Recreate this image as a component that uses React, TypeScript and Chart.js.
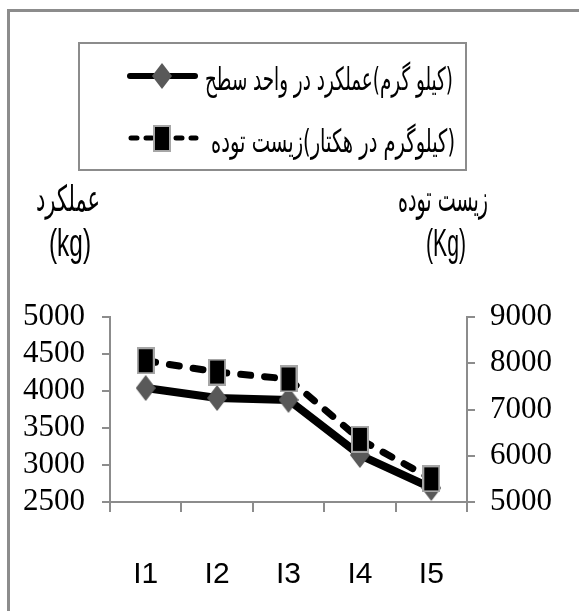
import { useEffect, useRef } from 'react';
import { Chart, registerables } from 'chart.js';

Chart.register(...registerables);

const categories = ['I1', 'I2', 'I3', 'I4', 'I5'];
const yieldValues = [4040, 3905, 3880, 3135, 2690];
const biomassValues = [8055, 7810, 7660, 6355, 5500];
const yieldLabel = '(کیلو گرم)عملکرد در واحد سطح';
const biomassLabel = '(کیلوگرم در هکتار)زیست توده';
const leftTitle = ['عملکرد', '(kg)'];
const rightTitle = ['زیست توده', '(Kg)'];
const leftAxisRange = [2500, 5000, 500];
const rightAxisRange = [5000, 9000, 1000];

const GRAY = '#8c8c8c';
const W = 579;
const H = 611;

function makeDiamond(): HTMLCanvasElement {
  const c = document.createElement('canvas');
  c.width = 20;
  c.height = 26;
  const g = c.getContext('2d')!;
  g.fillStyle = '#595959';
  g.beginPath();
  g.moveTo(10, 0);
  g.lineTo(20, 13);
  g.lineTo(10, 26);
  g.lineTo(0, 13);
  g.closePath();
  g.fill();
  return c;
}

function makeRect(): HTMLCanvasElement {
  const c = document.createElement('canvas');
  c.width = 18;
  c.height = 27;
  const g = c.getContext('2d')!;
  g.fillStyle = '#a6a6a6';
  g.fillRect(0, 0, 18, 27);
  g.fillStyle = '#000';
  g.fillRect(2, 2, 14, 23);
  return c;
}

function drawFitted(
  ctx: CanvasRenderingContext2D,
  text: string,
  font: string,
  x: number,
  y: number,
  width: number,
  align: 'center' | 'left' | 'right',
  rtl: boolean
) {
  ctx.save();
  ctx.font = font;
  (ctx as any).direction = rtl ? 'rtl' : 'ltr';
  ctx.textBaseline = 'middle';
  ctx.textAlign = 'left';
  ctx.fillStyle = '#000';
  const w = ctx.measureText(text).width;
  const sx = width / w;
  const left = align === 'center' ? x - width / 2 : align === 'right' ? x - width : x;
  ctx.translate(left, y);
  ctx.scale(sx, 1);
  ctx.fillText(text, 0, 0);
  ctx.restore();
}

export default function App() {
  const ref = useRef<HTMLCanvasElement>(null);

  useEffect(() => {
    const canvas = ref.current;
    if (!canvas) return;
    const diamond = makeDiamond();
    const rect = makeRect();
    const arabicFont = (px: number) => `${px}px "DejaVu Sans"`;
    const latinNarrow = (px: number) => `${px}px "Liberation Sans Narrow", "Liberation Sans"`;

    const decor = {
      id: 'decor',
      beforeDraw(chart: any) {
        const ctx: CanvasRenderingContext2D = chart.ctx;
        ctx.save();
        ctx.fillStyle = '#fff';
        ctx.fillRect(0, 0, W, H);
        ctx.strokeStyle = GRAY;
        ctx.lineWidth = 3;
        ctx.beginPath();
        ctx.moveTo(8.5, H + 5);
        ctx.lineTo(8.5, 10.5);
        ctx.lineTo(W + 5, 10.5);
        ctx.stroke();
        ctx.restore();
      },
      afterDraw(chart: any) {
        const ctx: CanvasRenderingContext2D = chart.ctx;
        ctx.save();
        ctx.strokeStyle = GRAY;
        ctx.lineWidth = 2;
        ctx.strokeRect(79, 43, 387, 127);
        ctx.strokeStyle = '#000';
        ctx.lineWidth = 6;
        ctx.lineCap = 'round';
        ctx.beginPath();
        ctx.moveTo(130, 76);
        ctx.lineTo(195, 76);
        ctx.stroke();
        ctx.drawImage(diamond, 162 - 10, 76 - 13);
        ctx.lineWidth = 5;
        ctx.setLineDash([6, 9]);
        ctx.beginPath();
        ctx.moveTo(131, 138);
        ctx.lineTo(196, 138);
        ctx.stroke();
        ctx.setLineDash([]);
        ctx.drawImage(rect, 162 - 9, 138 - 13);
        ctx.restore();

        drawFitted(ctx, yieldLabel, arabicFont(32), 453, 82, 248, 'right', true);
        drawFitted(ctx, biomassLabel, arabicFont(32), 455, 144, 244, 'right', true);

        drawFitted(ctx, leftTitle[0], arabicFont(36), 68, 202, 64, 'center', true);
        drawFitted(ctx, leftTitle[1], latinNarrow(38), 70, 246, 42, 'center', false);
        drawFitted(ctx, rightTitle[0], arabicFont(36), 443, 202, 90, 'center', true);
        drawFitted(ctx, rightTitle[1], latinNarrow(38), 446, 246, 40, 'center', false);
      },
    };

    const tickFont = { family: '"Liberation Serif", "Times New Roman", serif', size: 31 };
    const plain = (v: any) => String(v);

    const chart = new Chart(canvas, {
      type: 'line',
      data: {
        labels: categories,
        datasets: [
          {
            label: yieldLabel,
            data: yieldValues,
            yAxisID: 'y',
            borderColor: '#000',
            backgroundColor: '#000',
            borderWidth: 8,
            borderCapStyle: 'round',
            pointStyle: diamond as any,
            pointRadius: 13,
            order: 1,
          },
          {
            label: biomassLabel,
            data: biomassValues,
            yAxisID: 'y1',
            borderColor: '#000',
            backgroundColor: '#000',
            borderWidth: 7,
            borderDash: [10, 14],
            borderCapStyle: 'round',
            pointStyle: rect as any,
            pointRadius: 13,
            order: 0,
          },
        ],
      },
      options: {
        animation: false,
        responsive: false,
        devicePixelRatio: 1,
        layout: { padding: { top: 317, left: 0, right: 0, bottom: 0 } },
        plugins: { legend: { display: false }, tooltip: { enabled: false } },
        scales: {
          x: {
            type: 'category',
            offset: true,
            grid: {
              offset: true,
              drawOnChartArea: false,
              drawTicks: true,
              tickLength: 10,
              color: GRAY,
              lineWidth: 2,
            },
            border: { color: GRAY, width: 2 },
            ticks: {
              padding: 45,
              color: '#000',
              font: { family: '"Liberation Sans Narrow", "Liberation Sans", sans-serif', size: 30 },
            },
            afterFit: (s: any) => {
              s.height = H - 502;
            },
          },
          y: {
            position: 'left',
            min: leftAxisRange[0],
            max: leftAxisRange[1],
            ticks: {
              stepSize: leftAxisRange[2],
              padding: 17,
              color: '#000',
              font: tickFont,
              autoSkip: false,
              callback: plain,
            },
            grid: { drawOnChartArea: false, drawTicks: true, tickLength: 8, color: GRAY, lineWidth: 2 },
            border: { color: GRAY, width: 2 },
            afterFit: (s: any) => {
              s.width = 110;
            },
          },
          y1: {
            position: 'right',
            min: rightAxisRange[0],
            max: rightAxisRange[1],
            ticks: {
              stepSize: rightAxisRange[2],
              padding: 15,
              color: '#000',
              font: tickFont,
              autoSkip: false,
              callback: plain,
            },
            grid: { drawOnChartArea: false, drawTicks: true, tickLength: 8, color: GRAY, lineWidth: 2 },
            border: { color: GRAY, width: 2 },
            afterFit: (s: any) => {
              s.width = W - 467;
            },
          },
        },
      } as any,
      plugins: [decor],
    });

    return () => chart.destroy();
  }, []);

  return (
    <div style={{ position: 'fixed', left: 0, top: 0, width: W, height: H, overflow: 'hidden', background: '#fff' }}>
      <canvas ref={ref} width={W} height={H} style={{ width: W, height: H, display: 'block' }} />
    </div>
  );
}
